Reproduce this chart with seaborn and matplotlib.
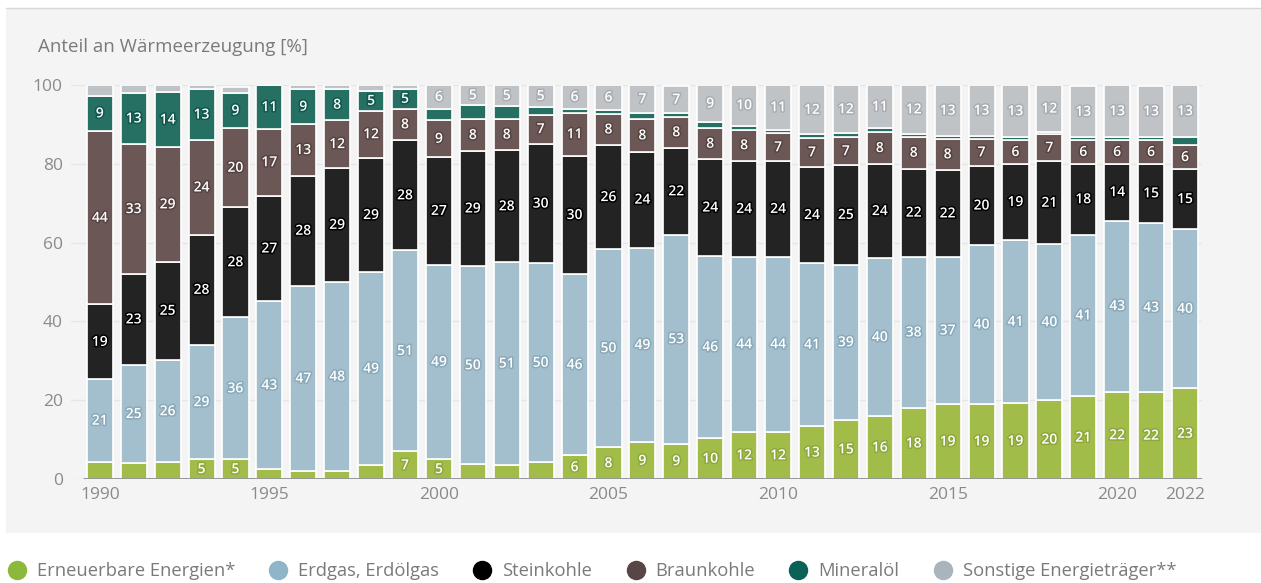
import numpy as np
import pandas as pd
import seaborn as sns
import matplotlib.pyplot as plt
import matplotlib.patheffects as pe
from matplotlib.lines import Line2D

# Data: share of heat generation by energy source [%]
years = list(range(1990, 2023))

erneuerbare = [4.3, 4, 4.2, 5, 5, 2.5, 2, 2, 3.5, 7, 5, 3.7, 3.6, 4.3, 6, 8, 9.3, 9,
               10.3, 12, 12, 13.4, 15, 16, 18, 19, 19, 19.2, 20, 21, 22.2, 22, 23]
erdgas = [21, 25, 26, 29, 36, 42.6, 47, 48, 49, 51, 49.4, 50.3, 51.4, 50.4, 46, 50.4,
          49.4, 53, 46.4, 44.4, 44.4, 41.4, 39.4, 40, 38.4, 37.4, 40.4, 41.4, 39.6,
          41, 43.4, 43, 40.4]
steinkohle = [19, 23, 25, 28, 28, 26.8, 28, 29, 29, 28, 27.3, 29.3, 28.4, 30.4, 30,
              26.3, 24.4, 22, 24.4, 24.3, 24.3, 24.4, 25.3, 24, 22.4, 22, 20, 19.4,
              21, 18, 14.4, 15, 15.3]
braunkohle = [44, 33, 29, 24, 20, 17, 13, 12, 12, 8, 9.3, 8, 8, 7.4, 11, 8, 8.2, 8,
              8, 8, 7, 7.4, 7, 8, 8, 8, 7, 6, 7, 6, 6, 6, 6]
mineraloel = [9, 13, 14, 13, 9, 11, 9, 8, 5, 5, 3, 3.5, 3.2, 2, 1, 1, 1.5, 0.8,
              1.5, 1, 1, 0.9, 1, 1, 0.8, 0.6, 0.6, 0.7, 0.4, 0.7, 0.7, 0.8, 2]
sonstige = [2.7, 2, 1.8, 1, 1.5, 0, 1, 1, 1.5, 1, 6, 5.2, 5.4, 5.4, 6, 6.3, 7.2, 7,
            9.4, 10.3, 11.3, 12.4, 12.3, 11, 12.4, 13, 13, 13.3, 12, 13, 13.3, 13, 13.3]

series = ["Erneuerbare Energien*", "Erdgas, Erdölgas", "Steinkohle",
          "Braunkohle", "Mineralöl", "Sonstige Energieträger**"]
values = [erneuerbare, erdgas, steinkohle, braunkohle, mineraloel, sonstige]
bar_colors = ["#a2bc4a", "#a3bfcd", "#222322", "#6b5856", "#256f63", "#c0c3c6"]
halo_colors = ["#8fa83c", "#8aa9b9", "#000000", "#554341", "#10564b", "#a9adb1"]
legend_colors = ["#8db83e", "#8fb5c9", "#000000", "#584545", "#0b6157", "#a9b4bc"]
tick_years = [1990, 1995, 2000, 2005, 2010, 2015, 2020, 2022]

df = pd.DataFrame({"Jahr": [str(y) for y in years]})
for name, vals in zip(series, values):
    df[name] = vals

sns.set_style("white")
plt.rcParams["font.family"] = ["Open Sans", "DejaVu Sans"]

fig = plt.figure(figsize=(12.61, 5.83), dpi=100)
fig.patch.set_facecolor("white")
# grey panel behind chart
fig.patches.append(plt.Rectangle((0.005, 1 - 533 / 583), 0.995, (533 - 8) / 583,
                                 transform=fig.transFigure, facecolor="#f4f4f4",
                                 edgecolor="none", zorder=-5))
fig.add_artist(Line2D([0.005, 1], [1 - 8 / 583, 1 - 8 / 583], color="#d8d8d8", lw=1,
                      zorder=-4))

ax = fig.add_axes([71 / 1261, 1 - 479 / 583, (1202 - 71) / 1261, (479 - 85) / 583])
ax.set_facecolor("none")
ax.set_zorder(1)

bottom = np.zeros(len(years))
for name, col, halo in zip(series, bar_colors, halo_colors):
    sns.barplot(data=df, x="Jahr", y=name, color=col, width=0.77, bottom=bottom,
                edgecolor="white", linewidth=1.2, saturation=1, ax=ax, zorder=2)
    vals = df[name].to_numpy()
    for i, v in enumerate(vals):
        if v >= 5:
            ax.text(i, bottom[i] + v / 2, f"{v:.0f}", ha="center", va="center",
                    color="white", fontsize=10, fontweight="semibold", zorder=4,
                    path_effects=[pe.withStroke(linewidth=2.2, foreground=halo)])
    bottom += vals

ax.set_ylim(0, 100)
ax.set_xlim(-0.85, 32.5)
ax.set_yticks([0, 20, 40, 60, 80, 100])
ax.yaxis.grid(True, color="#e6e6e6", lw=1, zorder=0)
ax.set_axisbelow(True)
ax.hlines(0, -0.5, 32.5, color="#8c8c8c", lw=2, zorder=3)
ax.set_xticks([years.index(y) for y in tick_years])
ax.set_xticklabels([str(y) for y in tick_years])
ax.tick_params(axis="both", length=0, colors="#8a8a8a", labelsize=12.5)
ax.tick_params(axis="y", pad=6)
ax.tick_params(axis="x", pad=6)
ax.set_xlabel("")
ax.set_ylabel("")
for s in ax.spines.values():
    s.set_visible(False)

fig.text(38 / 1261, 1 - 47 / 583, "Anteil an Wärmeerzeugung [%]", color="#7a7a7a",
         fontsize=13.5, va="center", ha="left")

handles = [Line2D([], [], marker="o", linestyle="", markersize=13,
                  markerfacecolor=c, markeredgecolor=c) for c in legend_colors]
fig.legend(handles, series, loc="center left", bbox_to_anchor=(0.0, 1 - 571 / 583),
           ncol=6, frameon=False, fontsize=13.2, labelcolor="#7a7a7a",
           handletextpad=0.6, columnspacing=1.85, handlelength=1.0, borderaxespad=0)

fig.savefig("out.png", dpi=100, facecolor=fig.get_facecolor())
